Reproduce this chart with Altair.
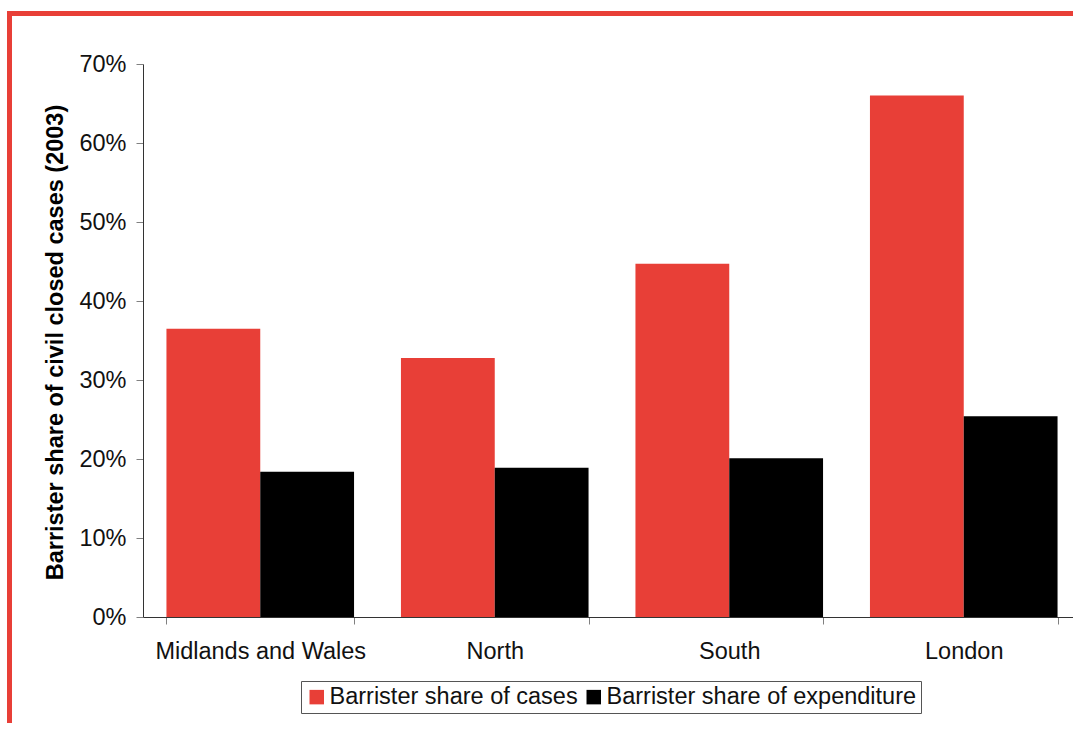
import altair as alt
import pandas as pd

# Barrister share of civil closed cases by region (2003)
regions = ["Midlands and Wales", "North", "South", "London"]
share_of_cases = [0.365, 0.328, 0.447, 0.660]
share_of_expenditure = [0.184, 0.189, 0.201, 0.254]
series_names = ["Barrister share of cases", "Barrister share of expenditure"]
series_colors = ["#E83F37", "#000000"]
y_ticks = [0, 0.1, 0.2, 0.3, 0.4, 0.5, 0.6, 0.7]

rows = []
for region, c, e in zip(regions, share_of_cases, share_of_expenditure):
    rows.append({"region": region, "series": series_names[0], "value": c})
    rows.append({"region": region, "series": series_names[1], "value": e})
df = pd.DataFrame(rows)

FONT = "Liberation Sans"
FRAME_RED = "#E83F37"
FS = 23.5

bars = alt.Chart(df).mark_bar(clip=False).encode(
    x=alt.X(
        "region:N",
        sort=regions,
        scale=alt.Scale(range=[0, 938], paddingInner=0.2, paddingOuter=0.1),
        axis=alt.Axis(
            title=None,
            labelAngle=0,
            labelFontSize=FS,
            labelFont=FONT,
            labelColor="#111111",
            labelPadding=15,
            tickBand="extent",
            tickSize=7,
            tickColor="#808080",
            domainColor="#333333",
            labelLimit=400,
        ),
    ),
    xOffset=alt.XOffset(
        "series:N",
        sort=series_names,
        scale=alt.Scale(paddingInner=0, paddingOuter=0),
    ),
    y=alt.Y(
        "value:Q",
        scale=alt.Scale(domain=[0, 0.7], nice=False),
        axis=alt.Axis(
            title="Barrister share of civil closed cases (2003)",
            values=y_ticks,
            format=".0%",
            grid=False,
            labelFontSize=FS,
            labelFont=FONT,
            labelColor="#111111",
            labelPadding=10,
            tickSize=7,
            tickColor="#808080",
            domainColor="#333333",
            titleFont=FONT,
            titleFontSize=23.5,
            titleFontWeight="bold",
            titleColor="#000000",
            titleAngle=270,
            titleAlign="center",
            titleBaseline="middle",
            titleX=-88,
            titleY=278,
        ),
    ),
    color=alt.Color(
        "series:N",
        sort=series_names,
        scale=alt.Scale(domain=series_names, range=series_colors),
        legend=alt.Legend(
            title=None,
            orient="none",
            legendX=158,
            legendY=617,
            direction="horizontal",
            symbolType="square",
            symbolSize=210,
            symbolStrokeWidth=0,
            labelFont=FONT,
            labelFontSize=FS,
            labelColor="#111111",
            labelLimit=500,
            labelOffset=1,
            columnPadding=4,
            padding=4,
            strokeColor="#555555",
            fillColor="#FFFFFF",
        ),
    ),
)

# Red frame along the top and left edges of the page
one_row = pd.DataFrame({"k": [0]})
frame_top = alt.Chart(one_row).mark_rule(color=FRAME_RED, strokeWidth=5, clip=False).encode(
    x=alt.value(-136), x2=alt.value(940), y=alt.value(-50.5)
)
frame_left = alt.Chart(one_row).mark_rule(color=FRAME_RED, strokeWidth=5, clip=False).encode(
    x=alt.value(-133.5), y=alt.value(-53), y2=alt.value(670)
)

chart = (
    alt.layer(bars, frame_top, frame_left)
    .properties(
        width=930,
        height=553,
        autosize=alt.AutoSizeParams(type="none"),
        padding={"left": 143, "top": 64, "right": 0, "bottom": 106},
        background="#FFFFFF",
    )
    .configure_view(strokeWidth=0)
)

chart.save("out.html", embed_options={"renderer": "svg", "actions": False})
